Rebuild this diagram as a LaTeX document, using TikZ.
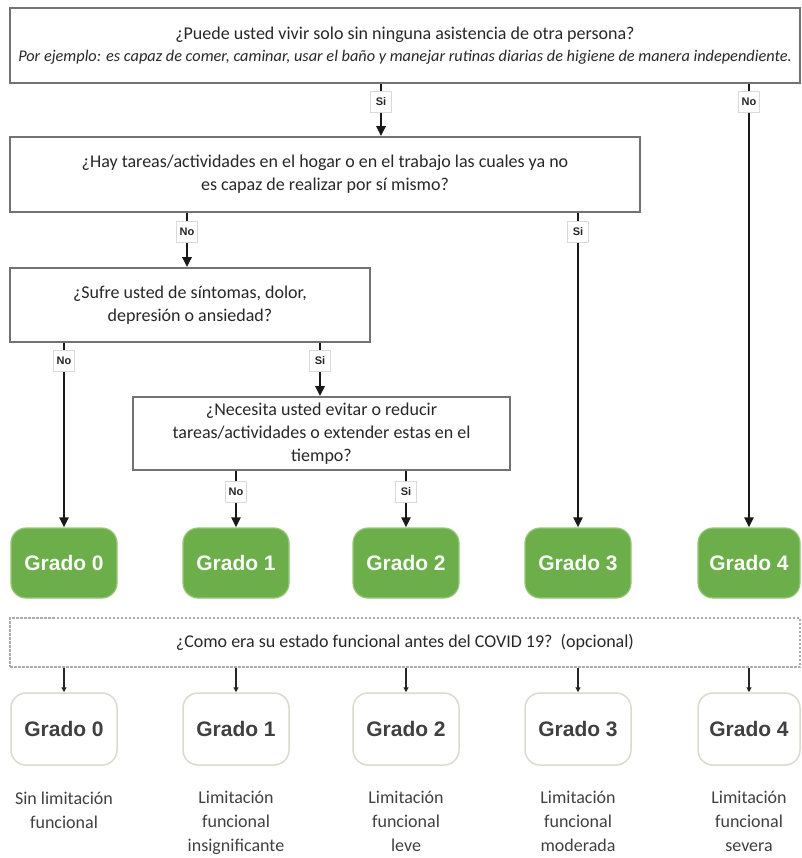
\documentclass[tikz,border=0pt]{standalone}
\usepackage{fontspec}
\setmainfont{Carlito}
\newfontfamily\arialf{Liberation Sans}
\usetikzlibrary{arrows.meta}
\definecolor{gr}{RGB}{108,174,74}
\definecolor{grl}{RGB}{150,200,120}
\definecolor{txt}{RGB}{40,40,40}
\definecolor{wbord}{RGB}{215,220,205}
\begin{document}
\begin{tikzpicture}[x=1pt,y=-1pt,
  qbox/.style={draw=black!55, line width=1.6pt, fill=white, align=center, inner sep=2pt,
     font=\fontsize{18}{23}\selectfont, text=txt},
  lbl/.style={draw=gray!30, line width=0.8pt, fill=white, inner sep=2pt, minimum width=21, minimum height=21,
     font=\arialf\bfseries\fontsize{11}{13}\selectfont, text=black!85},
  conn/.style={line width=2.7pt, black!90},
  carr/.style={conn, -{Triangle[length=10pt,width=9pt]}},
  gbox/.style={rounded corners=15pt, fill=gr, draw=grl, line width=1.2pt, minimum width=106, minimum height=70,
     font=\arialf\bfseries\fontsize{21}{25}\selectfont, text=white!95!gr},
  wbox/.style={rounded corners=15pt, fill=white, draw=wbord, line width=1.5pt, minimum width=106, minimum height=72,
     font=\arialf\bfseries\fontsize{21}{25}\selectfont, text=black!75},
  dbox/.style={draw=gray!65, line width=1.3pt, dash pattern=on 2.5pt off 1.5pt, minimum width=790, minimum height=49,
     font=\fontsize{18}{23}\selectfont, text=txt},
  tarr/.style={line width=1.2pt, black!85, -{Triangle[length=5pt,width=5pt]}},
  desc/.style={align=center, font=\fontsize{18}{24}\selectfont, text=black!75}
]
\useasboundingbox (0,0) rectangle (801,858);

% question boxes
\node[qbox, minimum width=790, minimum height=75] (q1) at (405,45.5)
  {¿Puede usted vivir solo sin ninguna asistencia de otra persona?\\[-1pt]
   {\itshape\fontsize{16.3}{19}\selectfont Por ejemplo: es capaz de comer, caminar, usar el baño y manejar rutinas diarias de higiene de manera independiente.}};
\node[qbox, minimum width=630, minimum height=75] (q2) at (325,174.5)
  {¿Hay tareas/actividades en el hogar o en el trabajo las cuales ya no\\ es capaz de realizar por sí mismo?};
\node[qbox, minimum width=360, minimum height=74] (q3) at (190,305)
  {¿Sufre usted de síntomas, dolor,\\ depresión o ansiedad?};
\node[qbox, minimum width=377, minimum height=73] (q4) at (321.5,433.5)
  {¿Necesita usted evitar o reducir\\ tareas/actividades o extender estas en el\\ tiempo?};

% green grade boxes
\node[gbox] (g0) at (64,563) {Grado 0};
\node[gbox] (g1) at (236,563) {Grado 1};
\node[gbox] (g2) at (406,563) {Grado 2};
\node[gbox] (g3) at (578,563) {Grado 3};
\node[gbox, minimum width=102] (g4) at (749,563) {Grado 4};

% labels
\node[lbl] (l1) at (381,102) {Si};
\node[lbl] (l2) at (749,102) {No};
\node[lbl] (l3) at (187,232) {No};
\node[lbl] (l4) at (578,232) {Si};
\node[lbl] (l5) at (64,361) {No};
\node[lbl] (l6) at (320,361) {Si};
\node[lbl] (l7) at (236,492) {No};
\node[lbl] (l8) at (406,492) {Si};

% connectors
\draw[conn] (q1.south -| l1) -- (l1);
\draw[carr] (l1) -- (l1 |- q2.north);
\draw[conn] (q1.south -| l2) -- (l2);
\draw[carr] (l2) -- (l2 |- g4.north);
\draw[conn] (q2.south -| l3) -- (l3);
\draw[carr] (l3) -- (l3 |- q3.north);
\draw[conn] (q2.south -| l4) -- (l4);
\draw[carr] (l4) -- (l4 |- g3.north);
\draw[conn] (q3.south -| l5) -- (l5);
\draw[carr] (l5) -- (l5 |- g0.north);
\draw[conn] (q3.south -| l6) -- (l6);
\draw[carr] (l6) -- (l6 |- q4.north);
\draw[conn] (q4.south -| l7) -- (l7);
\draw[carr] (l7) -- (l7 |- g1.north);
\draw[conn] (q4.south -| l8) -- (l8);
\draw[carr] (l8) -- (l8 |- g2.north);

% dashed box
\node[dbox] (d) at (405,642.5) {¿Como era su estado funcional antes del COVID 19?\ \ (opcional)};

% white boxes
\node[wbox] (w0) at (64,729) {Grado 0};
\node[wbox] (w1) at (236,729) {Grado 1};
\node[wbox] (w2) at (406,729) {Grado 2};
\node[wbox] (w3) at (578,729) {Grado 3};
\node[wbox, minimum width=102] (w4) at (749,729) {Grado 4};

\foreach \w in {w0,w1,w2,w3,w4}{
  \draw[tarr] (d.south -| \w) -- (\w.north);
}

% descriptions
\node[desc, anchor=north] (t0) at (64,788) {Sin limitación\\ funcional};
\node[desc, anchor=north] (t1) at (236,788) {Limitación\\ funcional\\ insignificante};
\node[desc, anchor=north] (t2) at (406,788) {Limitación\\ funcional\\ leve};
\node[desc, anchor=north] (t3) at (578,788) {Limitación\\ funcional\\ moderada};
\node[desc, anchor=north] (t4) at (749,788) {Limitación\\ funcional\\ severa};
\end{tikzpicture}
\end{document}
